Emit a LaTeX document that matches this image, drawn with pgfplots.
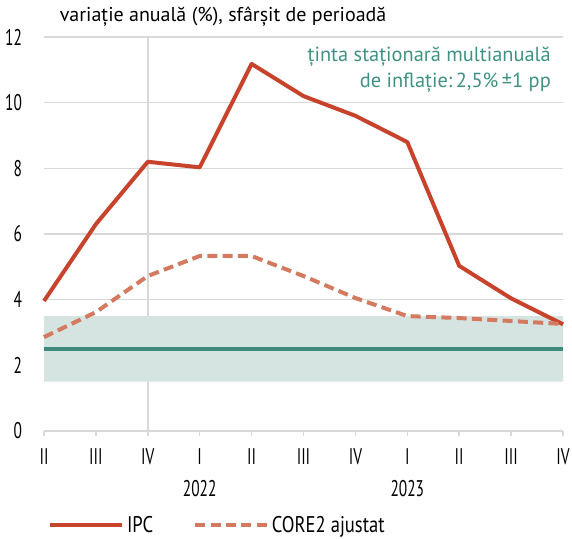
\documentclass[border=0pt]{standalone}
\usepackage{fontspec}
\setmainfont{PT Sans}
\newfontfamily\condfont[FakeStretch=0.68]{PT Sans}
\newfontfamily\legfont[FakeStretch=0.82]{PT Sans}
\usepackage{pgfplots}
\pgfplotsset{compat=1.18}

\definecolor{ipc}{HTML}{C8432C}
\definecolor{core}{HTML}{D47A60}
\definecolor{tinta}{HTML}{3E8A7C}
\definecolor{banda}{HTML}{D5E4E0}
\definecolor{tintatext}{HTML}{3F9282}
\definecolor{grila}{HTML}{D9D9D9}

\begin{document}
\begin{tikzpicture}[x=1pt,y=1pt]
\useasboundingbox (-33,-81) rectangle (396,323.25);
\begin{axis}[
  at={(0,0)}, anchor=south west,
  scale only axis, width=389.25pt, height=295.5pt,
  xmin=0, xmax=10, ymin=0, ymax=12,
  clip=false,
  axis x line*=bottom, axis y line*=left,
  x axis line style={grila, line width=1.1pt, -},
  y axis line style={draw=none},
  xtick={0,...,10},
  xticklabels={II,III,IV,I,II,III,IV,I,II,III,IV},
  ytick={0,2,...,12},
  ymajorgrids, grid style={grila, line width=1.1pt},
  major tick length=4pt,
  xtick style={grila, line width=1.1pt},
  ytick style={draw=none},
  tick align=outside,
  /pgf/number format/assume math mode=true,
  tick label style={font=\condfont\fontsize{17}{18}\selectfont, black},
  xticklabel style={yshift=-6pt},
  yticklabel style={anchor=east, xshift=-9pt},
  legend style={at={(axis description cs:0.008,-0.2386)}, anchor=west,
    draw=none, fill=none, inner sep=0pt,
    font=\legfont\fontsize{17}{18}\selectfont,
    /tikz/every even column/.append style={column sep=28pt}},
  legend columns=2, legend cell align=left,
  legend image code/.code={\draw (0pt,0pt) -- (54pt,0pt);},
]
% separator at the end of 2021
\draw[grila, line width=1.1pt] (axis cs:2,0) -- (axis cs:2,12);
% target band 2.5% +/- 1 pp
\addplot[draw=none, fill=banda, forget plot] coordinates {(0,1.5) (10,1.5) (10,3.5) (0,3.5) (0,1.5)};
\addplot[tinta, line width=2.7pt, forget plot] coordinates {(0,2.5) (10,2.5)};

\addplot[ipc, line width=3pt, line join=round] coordinates {
 (0,3.96) (1,6.30) (2,8.20) (3,8.03) (4,11.18) (5,10.20) (6,9.60) (7,8.80) (8,5.03) (9,4.04) (10,3.25)};
\addlegendentry{IPC}
\addplot[core, line width=3pt, dash pattern=on 7.5pt off 4pt, line join=round] coordinates {
 (0,2.86) (1,3.62) (2,4.72) (3,5.33) (4,5.33) (5,4.72) (6,4.05) (7,3.50) (8,3.44) (9,3.35) (10,3.26)};
\addlegendentry{CORE2 ajustat}

\node[anchor=base west, font=\fontsize{15}{16}\selectfont, inner sep=0pt]
  at (axis description cs:0.03,1.04) {variație anuală (\%), sfârșit de perioadă};
\node[anchor=north east, align=right, text=tintatext, inner sep=0pt,
  font=\fontsize{15.3}{19.5}\selectfont]
  at (axis description cs:0.977,0.975) {ținta staționară multianuală\\de inflație:\,2,5\%\,±1 pp};
\node[font=\condfont\fontsize{17}{18}\selectfont] at (axis cs:3,0) [yshift=-43pt] {2022};
\node[font=\condfont\fontsize{17}{18}\selectfont] at (axis cs:7,0) [yshift=-43pt] {2023};
\end{axis}
\end{tikzpicture}
\end{document}
